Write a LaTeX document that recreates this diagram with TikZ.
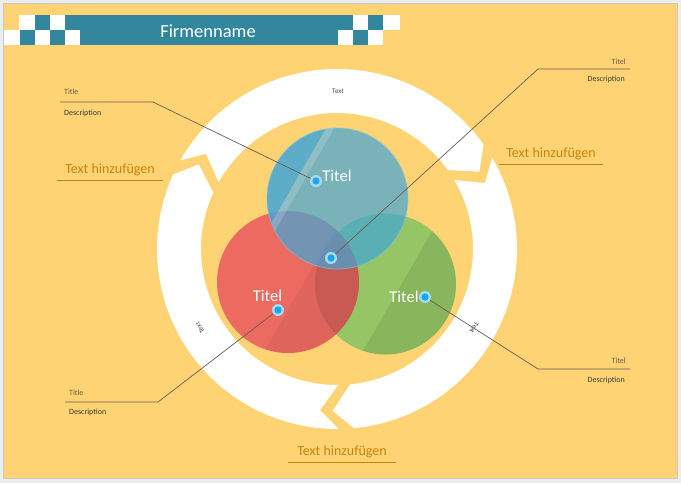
\documentclass[tikz,border=0pt]{standalone}
\usepackage{fontspec}
\setmainfont{Carlito}
\usetikzlibrary{calc}
\definecolor{framegray}{HTML}{EDEDED}
\definecolor{framedark}{HTML}{C9C9C9}
\definecolor{bgyellow}{HTML}{FDD373}
\definecolor{headteal}{HTML}{32869E}
\definecolor{hintcol}{HTML}{C7850F}
\definecolor{conncol}{HTML}{6E5A5C}
\definecolor{titlecol}{HTML}{6B5E48}
\definecolor{desccol}{HTML}{3A3A3A}
\definecolor{ringtextcol}{HTML}{4A4A4A}
\definecolor{greenc}{HTML}{95C565}
\definecolor{redc}{HTML}{EC6A60}
\definecolor{bluec}{HTML}{42A6D8}
\definecolor{blueedge}{HTML}{7CC8E0}
\definecolor{dotring}{HTML}{A5DBF0}
\definecolor{dotcore}{HTML}{1BA5EA}
\begin{document}
\begin{tikzpicture}[x=1pt,y=-1pt,
  conn/.style={draw=conncol, line width=0.7pt},
  smalltitle/.style={font=\fontsize{8}{9}\selectfont, text=titlecol, inner sep=0pt},
  smalldesc/.style={font=\fontsize{8}{9}\selectfont, text=desccol, inner sep=0pt},
  hint/.style={font=\fontsize{14}{16}\selectfont, text=hintcol, text depth=3pt, inner ysep=4pt, inner xsep=0pt, anchor=base},
  uline/.style={draw=hintcol, line width=0.8pt},
  dot/.style={circle, inner sep=0pt, minimum size=12pt, fill=dotring, path picture={\fill[dotcore] (path picture bounding box.center) circle (3.6pt);}},
  titel/.style={font=\fontsize{16.5}{18}\selectfont, text=white, inner sep=0pt},
  ringtext/.style={font=\fontsize{7}{8}\selectfont, text=ringtextcol, inner sep=0pt},
  whitesq/.style={fill=white},
  tealsq/.style={fill=headteal},
]
\useasboundingbox (0,0) rectangle (681,483);
% background and frame
\fill[framegray] (0,0) rectangle (681,483);
\fill[bgyellow] (4,4) rectangle (677,478);
\draw[framedark, line width=0.6pt] (3.7,3.7) rectangle (677.3,478.3);

% header
\fill[headteal] (65,15) rectangle (353,30);
\fill[headteal] (80,30) rectangle (338,45);
\fill[whitesq] (19,15) rectangle (35,30);
\fill[tealsq] (35,15) rectangle (50,30);
\fill[whitesq] (50,15) rectangle (65,30);
\fill[whitesq] (4,30) rectangle (20,45);
\fill[tealsq] (20,30) rectangle (35,45);
\fill[whitesq] (35,30) rectangle (50,45);
\fill[tealsq] (50,30) rectangle (65,45);
\fill[whitesq] (65,30) rectangle (80,45);
\fill[whitesq] (353,15) rectangle (368,30);
\fill[tealsq] (368,15) rectangle (383,30);
\fill[whitesq] (383,15) rectangle (400,30);
\fill[whitesq] (338,30) rectangle (353,45);
\fill[tealsq] (353,30) rectangle (368,45);
\fill[whitesq] (368,30) rectangle (383,45);
\node[font=\fontsize{18.5}{20}\selectfont, text=white, inner sep=0pt] (firm) at (208,31) {Firmenname};

% ring of three arrows
\begin{scope}[shift={(337,249)}, y=1pt]
  \foreach \T in {150.5,30.5,-89.5} {
    \fill[white] (\T:180) -- (\T-6.5:162) -- (\T:136)
      arc[start angle=\T, end angle=\T-115, radius=136]
      -- (\T-122:162) -- (\T-115:180)
      arc[start angle=\T-115, end angle=\T, radius=180] -- cycle;
  }
\end{scope}
\node[ringtext] (rt1) at (338,91) {Text};
\node[ringtext, rotate=120] (rt2) at (200,328) {Text};
\node[ringtext, rotate=-120] (rt3) at (474,328) {Text};

% circles
\coordinate (cg) at (385.5,284);
\coordinate (cr) at (288,282);
\coordinate (cb) at (337.5,198.5);
\fill[greenc] (cg) circle (70.5);
\begin{scope}
  \clip (cg) circle (70.5);
  \fill[black, opacity=0.08, shift={(cg)}, rotate=-30] (14,-100) rectangle (100,100);
\end{scope}
\fill[redc] (cr) circle (71);
\begin{scope}
  \clip (cr) circle (71);
  \fill[black, opacity=0.1] (cg) circle (70.5);
  \fill[black, opacity=0.05, shift={(cr)}, rotate=-30] (14,-100) rectangle (100,100);
\end{scope}
\fill[bluec, opacity=0.7] (cb) circle (70.5);
\begin{scope}
  \clip (cb) circle (70.5);
  \fill[bluec, opacity=0.5, shift={(cb)}, rotate=-30] (-100,-100) rectangle (-45,100);
  \fill[white, opacity=0.17, shift={(cb)}, rotate=-30] (-45,-100) rectangle (-38,100);
\end{scope}
\draw[blueedge, line width=0.8pt, opacity=0.6] (cb) circle (70.5);

% connectors
\coordinate (d1) at (316,181);
\coordinate (d2) at (331,258);
\coordinate (d3) at (278,310);
\coordinate (d4) at (425,297);

\coordinate (a1) at (60,102); \coordinate (k1) at (153,102);
\node[smalltitle, anchor=west] (t1) at (64,92) {Title};
\node[smalldesc, anchor=west] (e1) at (64,113) {Description};
\draw[conn] (a1) -- (k1) -- (d1);

\coordinate (a2) at (630,69); \coordinate (k2) at (538,69);
\node[smalltitle, anchor=east] (t2) at (626,62) {Titel};
\node[smalldesc, anchor=east] (e2) at (625,79) {Description};
\draw[conn] (a2) -- (k2) -- (d2);

\coordinate (a3) at (65,402); \coordinate (k3) at (158,402);
\node[smalltitle, anchor=west] (t3) at (69,393) {Title};
\node[smalldesc, anchor=west] (e3) at (69,412) {Description};
\draw[conn] (a3) -- (k3) -- (d3);

\coordinate (a4) at (630,369); \coordinate (k4) at (538,369);
\node[smalltitle, anchor=east] (t4) at (626,361) {Titel};
\node[smalldesc, anchor=east] (e4) at (625,380) {Description};
\draw[conn] (a4) -- (k4) -- (d4);

% dots
\node[dot] (dot1) at (d1) {};
\node[dot] (dot2) at (d2) {};
\node[dot] (dot3) at (d3) {};
\node[dot] (dot4) at (d4) {};

% circle titles
\node[titel] (T1) at (337,176) {Titel};
\node[titel] (T2) at (267.5,296) {Titel};
\node[titel] (T3) at (404,297) {Titel};

% hint labels
\node[hint, minimum width=106pt] (h1) at (110,173) {Text hinzufügen};
\draw[uline] (h1.south west) -- (h1.south east);
\node[hint, minimum width=104pt] (h2) at (551,157) {Text hinzufügen};
\draw[uline] (h2.south west) -- (h2.south east);
\node[hint, minimum width=107pt] (h3) at (342,455) {Text hinzufügen};
\draw[uline] (h3.south west) -- (h3.south east);
\end{tikzpicture}
\end{document}
